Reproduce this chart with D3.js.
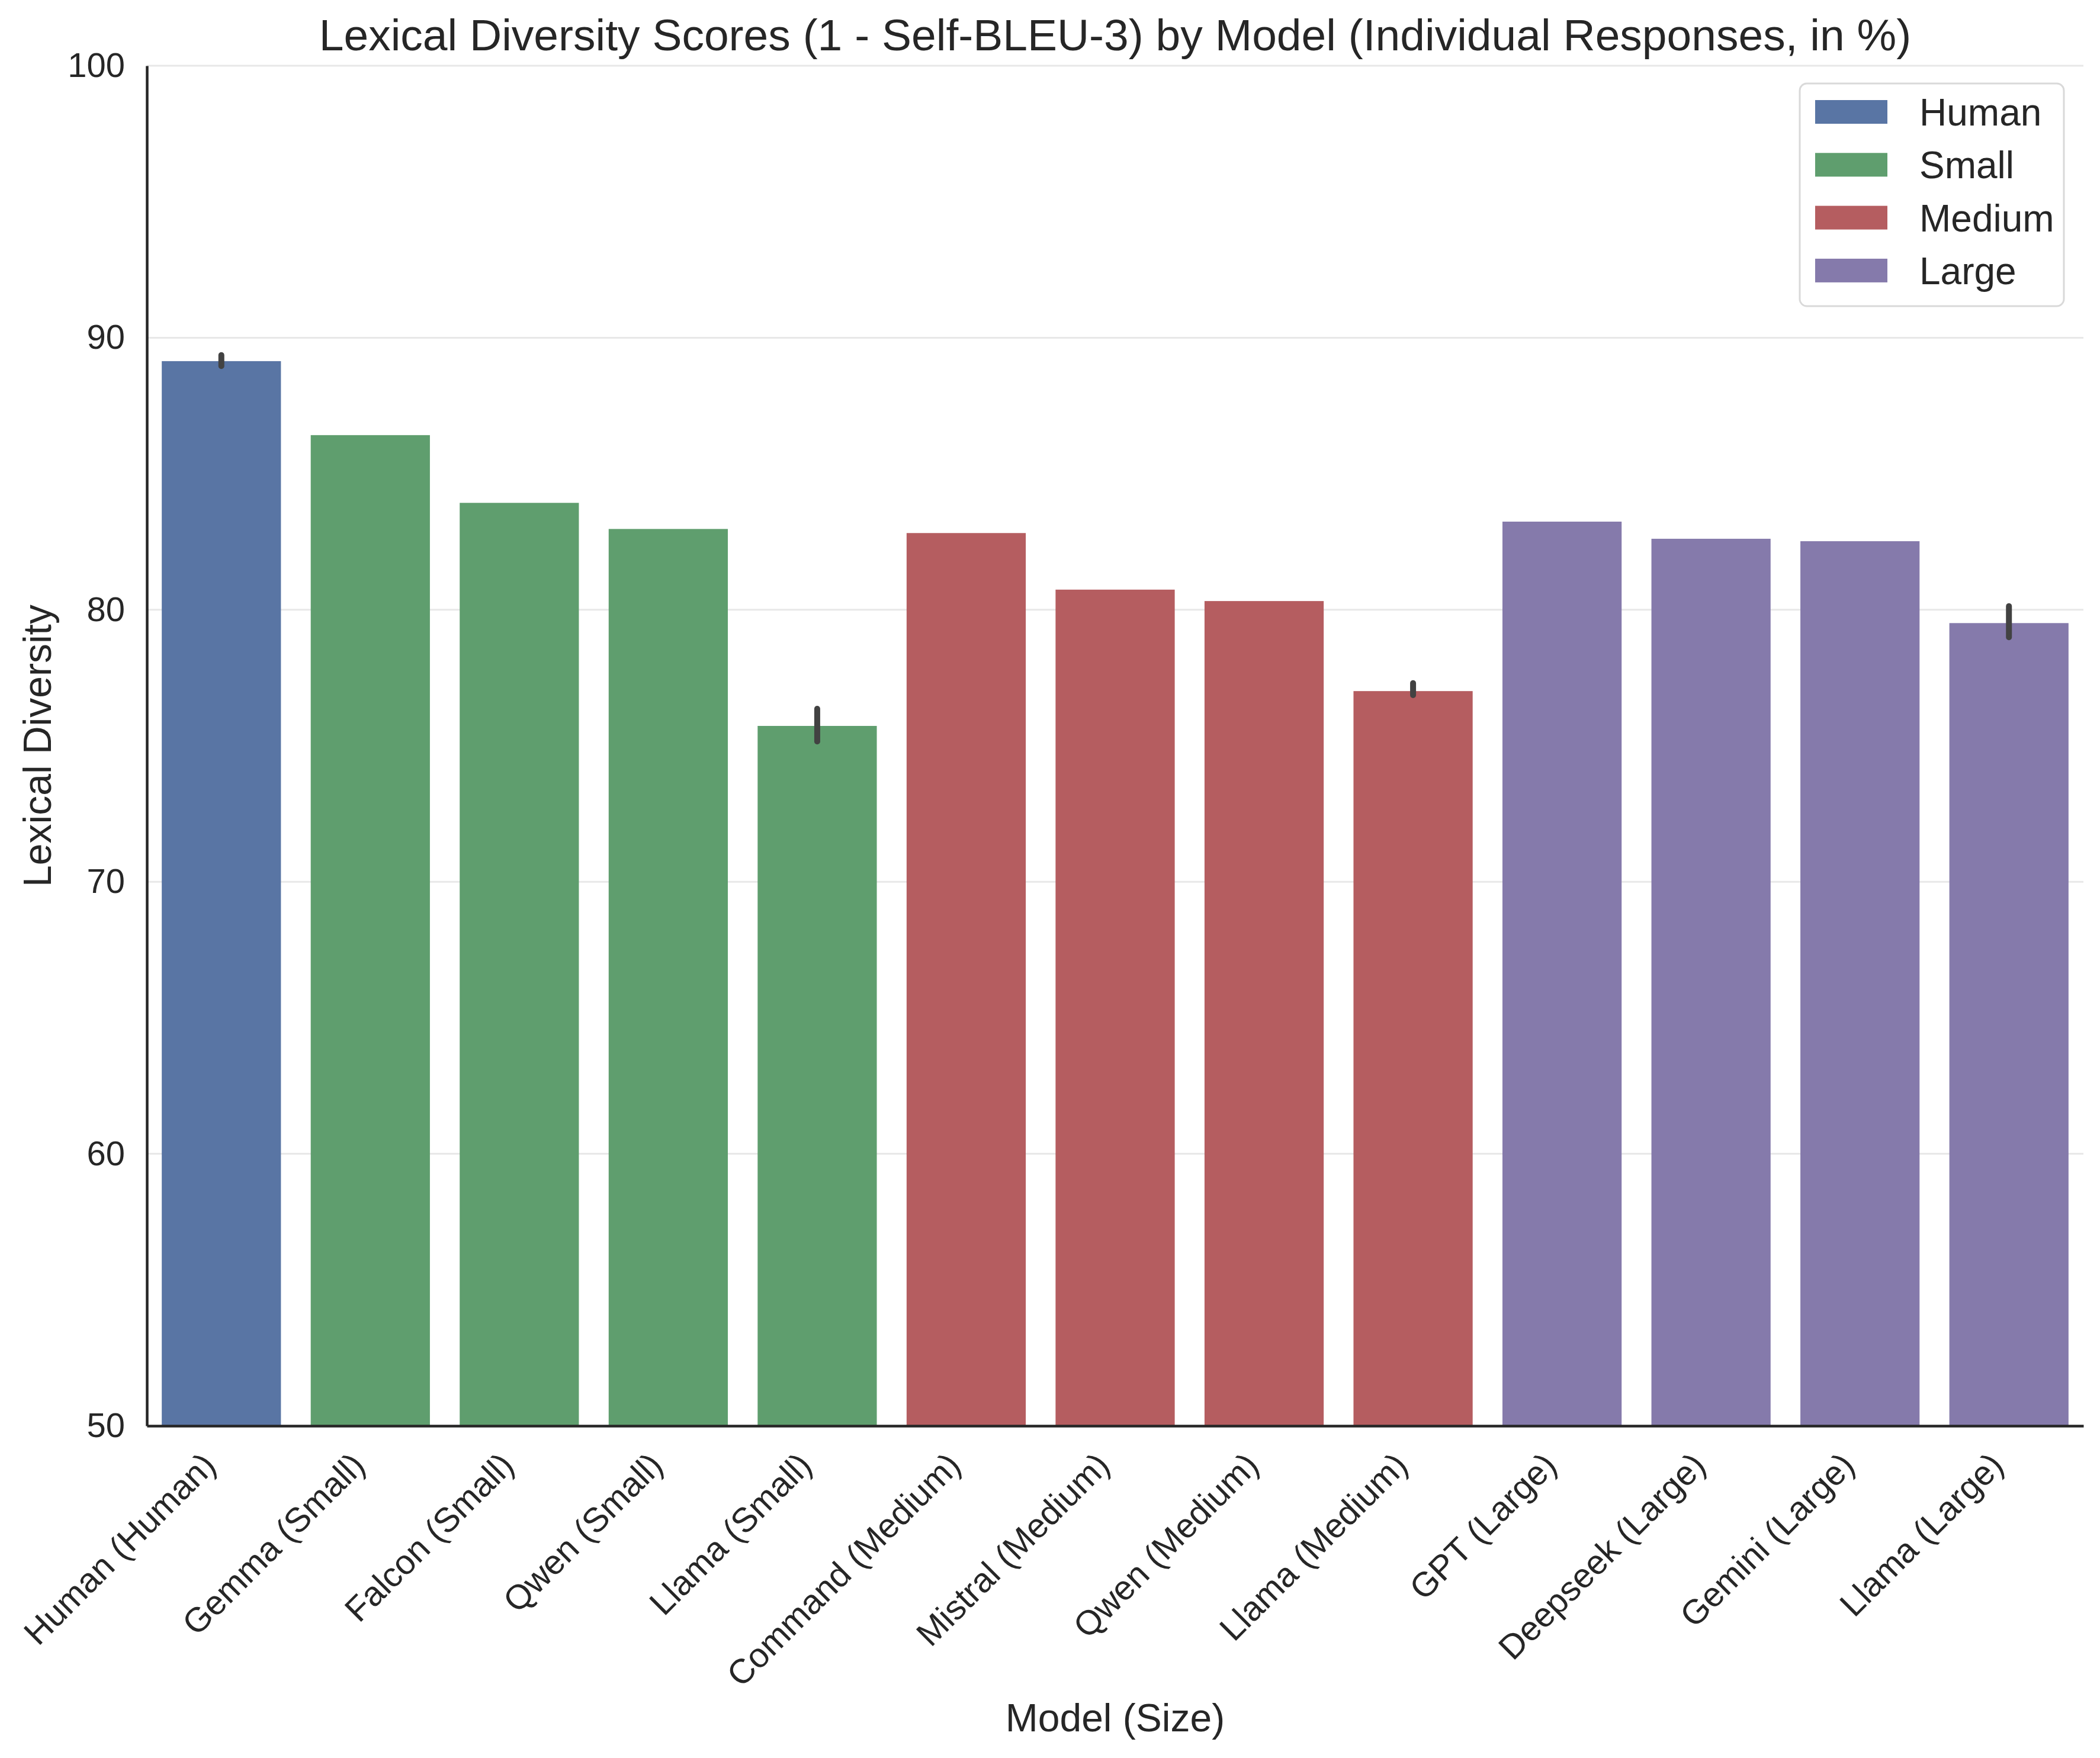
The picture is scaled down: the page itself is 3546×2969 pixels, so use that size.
<!DOCTYPE html>
<html>
<head>
<meta charset="utf-8">
<script src="https://cdn.jsdelivr.net/npm/d3@7"></script>
<style>
  body { margin: 0; background: #fff; }
  text { font-family: "Liberation Sans", Arial, sans-serif; fill: #262626; }
</style>
</head>
<body>
<svg id="chart" width="3546" height="2969"></svg>
<script>
// chart data
var models = ['Human (Human)', 'Gemma (Small)', 'Falcon (Small)', 'Qwen (Small)', 'Llama (Small)',
  'Command (Medium)', 'Mistral (Medium)', 'Qwen (Medium)', 'Llama (Medium)',
  'GPT (Large)', 'Deepseek (Large)', 'Gemini (Large)', 'Llama (Large)'];
var sizes = ['Human', 'Small', 'Small', 'Small', 'Small', 'Medium', 'Medium', 'Medium', 'Medium',
  'Large', 'Large', 'Large', 'Large'];
var scores = [89.14, 86.42, 83.93, 82.97, 75.73, 82.82, 80.74, 80.32, 77.01, 83.24, 82.61, 82.52, 79.51];
// confidence interval ends (null where the interval is too small to see)
var ciLow = [88.96, null, null, null, 75.16, null, null, null, 76.86, null, null, null, 78.99];
var ciHigh = [89.36, null, null, null, 76.36, null, null, null, 77.30, null, null, null, 80.13];
var sizeLevels = ['Human', 'Small', 'Medium', 'Large'];
var sizeColors = ['#5975a4', '#5f9e6e', '#b55d60', '#857aab'];
var yTicks = [50, 60, 70, 80, 90, 100];

var svg = d3.select('#chart');
var plotLeft = 248, plotRight = 3518, plotTop = 111, plotBottom = 2408;

var x = d3.scaleBand()
  .domain(models)
  .range([plotLeft, plotRight])
  .paddingInner(0.2)
  .paddingOuter(0.1);
var y = d3.scaleLinear()
  .domain([50, 100])
  .range([plotBottom, plotTop]);
var color = d3.scaleOrdinal()
  .domain(sizeLevels)
  .range(sizeColors);

// grid lines
svg.append('g')
  .selectAll('line')
  .data(yTicks)
  .enter()
  .append('line')
  .attr('x1', plotLeft)
  .attr('x2', plotRight)
  .attr('y1', function (d) { return y(d); })
  .attr('y2', function (d) { return y(d); })
  .style('stroke', '#e8e8e8')
  .style('stroke-width', 3);

// bars
svg.append('g')
  .selectAll('rect')
  .data(models)
  .enter()
  .append('rect')
  .attr('x', function (d) { return x(d); })
  .attr('width', x.bandwidth())
  .attr('y', function (d, i) { return y(scores[i]); })
  .attr('height', function (d, i) { return y(50) - y(scores[i]); })
  .style('fill', function (d, i) { return color(sizes[i]); });

// error bars
svg.append('g')
  .selectAll('line')
  .data(models.filter(function (d, i) { return ciLow[i] !== null; }))
  .enter()
  .append('line')
  .attr('x1', function (d) { return x(d) + x.bandwidth() / 2; })
  .attr('x2', function (d) { return x(d) + x.bandwidth() / 2; })
  .attr('y1', function (d) { return y(ciLow[models.indexOf(d)]); })
  .attr('y2', function (d) { return y(ciHigh[models.indexOf(d)]); })
  .style('stroke', '#424242')
  .style('stroke-width', 10)
  .style('stroke-linecap', 'round');

// y axis
var yAxis = svg.append('g')
  .attr('transform', 'translate(' + plotLeft + ',0)')
  .call(d3.axisLeft(y).tickValues(yTicks).tickSize(0).tickPadding(37));
yAxis.select('.domain').style('stroke', '#262626').style('stroke-width', 4.5);
yAxis.selectAll('text')
  .style('font-size', '58px')
  .style('font-family', '"Liberation Sans", Arial, sans-serif')
  .style('fill', '#262626');

// x axis
var xAxis = svg.append('g')
  .attr('transform', 'translate(0,' + plotBottom + ')')
  .call(d3.axisBottom(x).tickSize(0).tickSizeOuter(0));
xAxis.select('.domain').style('stroke', '#262626').style('stroke-width', 4.5);
xAxis.selectAll('text')
  .style('font-size', '58px')
  .style('font-family', '"Liberation Sans", Arial, sans-serif')
  .style('fill', '#262626')
  .attr('text-anchor', 'end')
  .attr('dy', 0)
  .attr('y', 0)
  .attr('transform', 'translate(-6,70) rotate(-45)');

// title and axis labels
svg.append('text')
  .attr('x', (plotLeft + plotRight) / 2)
  .attr('y', 85)
  .attr('text-anchor', 'middle')
  .style('font-size', '75px')
  .text('Lexical Diversity Scores (1 - Self-BLEU-3) by Model (Individual Responses, in %)');
svg.append('text')
  .attr('x', (plotLeft + plotRight) / 2)
  .attr('y', 2924)
  .attr('text-anchor', 'middle')
  .style('font-size', '66px')
  .text('Model (Size)');
svg.append('text')
  .attr('transform', 'translate(86,' + (plotTop + plotBottom) / 2 + ') rotate(-90)')
  .attr('text-anchor', 'middle')
  .style('font-size', '66px')
  .text('Lexical Diversity');

// legend
var legend = svg.append('g');
legend.append('rect')
  .attr('x', 3039)
  .attr('y', 141)
  .attr('width', 446)
  .attr('height', 376)
  .attr('rx', 12)
  .style('fill', '#fff')
  .style('stroke', '#d9d9d9')
  .style('stroke-width', 3);
var item = legend.selectAll('g.item')
  .data(sizeLevels)
  .enter()
  .append('g')
  .attr('class', 'item')
  .attr('transform', function (d, i) { return 'translate(3065,' + (169 + i * 89.3) + ')'; });
item.append('rect')
  .attr('width', 122)
  .attr('height', 40)
  .style('fill', function (d) { return color(d); });
item.append('text')
  .attr('x', 176)
  .attr('y', 43)
  .style('font-size', '64px')
  .text(function (d) { return d; });
</script>
</body>
</html>
